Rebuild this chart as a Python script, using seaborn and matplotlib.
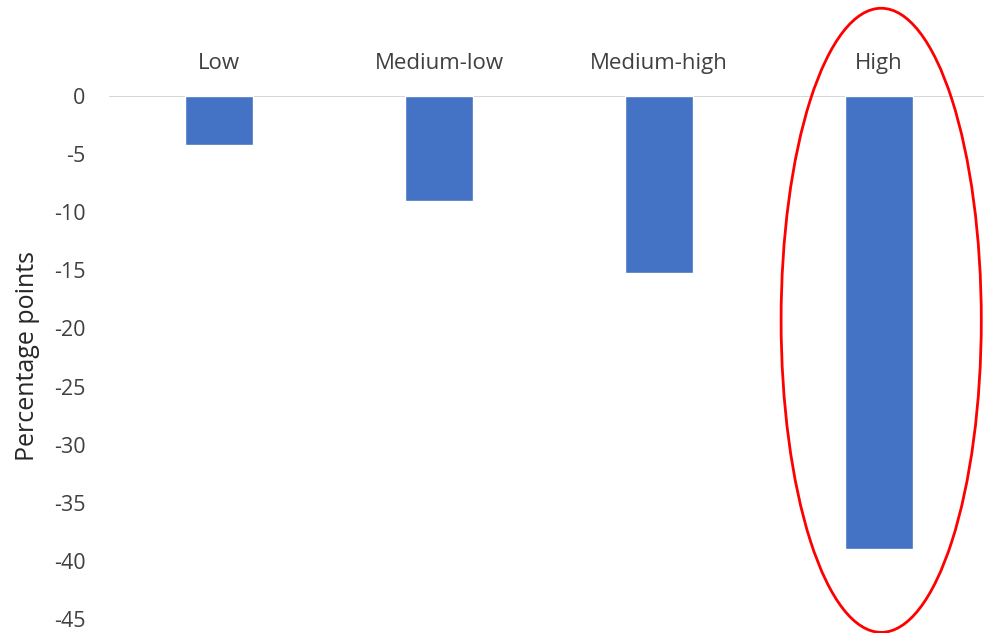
import matplotlib
matplotlib.use("Agg")
import matplotlib.pyplot as plt
import seaborn as sns
import pandas as pd
from matplotlib.patches import Ellipse

categories = ["Low", "Medium-low", "Medium-high", "High"]
values = [-4.2, -9.0, -15.2, -39.0]
yticks = [0, -5, -10, -15, -20, -25, -30, -35, -40, -45]

sns.set_theme(style="white")
plt.rcParams['font.family'] = ['Open Sans', 'DejaVu Sans']

W, H = 984, 633
fig = plt.figure(figsize=(W / 100, H / 100), dpi=100)
ax = fig.add_axes([109 / W, (H - 619) / H, 880 / W, (619 - 96) / H])

df = pd.DataFrame({"cat": categories, "val": values})
sns.barplot(data=df, x="cat", y="val", color="#4472C4", width=0.31,
            saturation=1, ax=ax)

ax.set_ylim(-45, 0)
ax.set_xlim(-0.5, 3.5)
ax.set_yticks(yticks)
ax.set_yticklabels([str(v) for v in yticks], fontsize=15.5, color="#404040")
ax.axhline(0, color="#D0D0D0", lw=1.2, zorder=0)
for s in ax.spines.values():
    s.set_visible(False)
ax.tick_params(axis="y", length=0, pad=17)
ax.xaxis.tick_top()
ax.tick_params(axis="x", length=0, pad=16, labelsize=16, labelcolor="#404040")
ax.set_xlabel("")
ax.set_ylabel("")

fig.text(28 / W, 1 - 356 / H, "Percentage points", rotation=90, ha="center",
         va="center", fontsize=18, color="#262626")

ell = Ellipse((3.01, -19.3), width=0.91, height=53.7, fill=False,
              edgecolor="#FF0000", lw=2, clip_on=False)
ax.add_patch(ell)

fig.savefig("out.png", dpi=100)
